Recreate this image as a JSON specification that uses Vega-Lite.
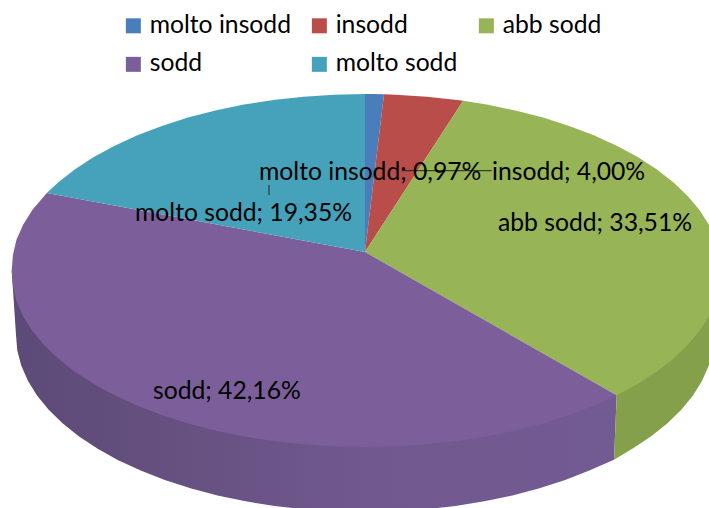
{
"$schema":"https://vega.github.io/schema/vega-lite/v6.json",
"width":709,"height":508,"padding":0,"autosize":{"type":"none"},
"background":"white",
"config":{"view":{"stroke":null}},
"datasets":{
"top":[
{"slice":"molto insodd","i":0,"x":365,"y":252},{"slice":"molto insodd","i":1,"x":365,"y":94},{"slice":"molto insodd","i":2,"x":374,"y":94.1},{"slice":"molto insodd","i":3,"x":384,"y":94.3},
{"slice":"insodd","i":0,"x":365,"y":252},{"slice":"insodd","i":1,"x":384,"y":94.3},{"slice":"insodd","i":2,"x":396,"y":94.7},{"slice":"insodd","i":3,"x":426.8,"y":96.7},{"slice":"insodd","i":4,"x":457.1,"y":100},{"slice":"insodd","i":5,"x":463.1,"y":100.8},
{"slice":"abb sodd","i":0,"x":365,"y":252},{"slice":"abb sodd","i":1,"x":463.1,"y":100.8},{"slice":"abb sodd","i":2,"x":486.8,"y":104.6},{"slice":"abb sodd","i":3,"x":515.4,"y":110.5},{"slice":"abb sodd","i":4,"x":543,"y":117.6},{"slice":"abb sodd","i":5,"x":569.2,"y":125.9},{"slice":"abb sodd","i":6,"x":593.8,"y":135.3},{"slice":"abb sodd","i":7,"x":616.7,"y":145.7},{"slice":"abb sodd","i":8,"x":637.7,"y":157},{"slice":"abb sodd","i":9,"x":656.6,"y":169.3},{"slice":"abb sodd","i":10,"x":673.3,"y":182.2},{"slice":"abb sodd","i":11,"x":687.6,"y":195.9},{"slice":"abb sodd","i":12,"x":699.5,"y":210.1},{"slice":"abb sodd","i":13,"x":708.9,"y":224.8},{"slice":"abb sodd","i":14,"x":715.6,"y":239.9},{"slice":"abb sodd","i":15,"x":719.6,"y":255.1},{"slice":"abb sodd","i":16,"x":721,"y":270.5},{"slice":"abb sodd","i":17,"x":719.6,"y":285.9},{"slice":"abb sodd","i":18,"x":715.6,"y":301.1},{"slice":"abb sodd","i":19,"x":708.9,"y":316.2},{"slice":"abb sodd","i":20,"x":699.5,"y":330.9},{"slice":"abb sodd","i":21,"x":687.6,"y":345.1},{"slice":"abb sodd","i":22,"x":673.3,"y":358.8},{"slice":"abb sodd","i":23,"x":656.6,"y":371.7},{"slice":"abb sodd","i":24,"x":637.7,"y":384},{"slice":"abb sodd","i":25,"x":616.7,"y":395.3},
{"slice":"sodd","i":0,"x":365,"y":252},{"slice":"sodd","i":1,"x":616.7,"y":395.3},{"slice":"sodd","i":2,"x":593.8,"y":405.7},{"slice":"sodd","i":3,"x":569.2,"y":415.1},{"slice":"sodd","i":4,"x":543,"y":423.4},{"slice":"sodd","i":5,"x":515.4,"y":430.5},{"slice":"sodd","i":6,"x":486.8,"y":436.4},{"slice":"sodd","i":7,"x":457.1,"y":441},{"slice":"sodd","i":8,"x":426.8,"y":444.3},{"slice":"sodd","i":9,"x":396,"y":446.3},{"slice":"sodd","i":10,"x":365,"y":447},{"slice":"sodd","i":11,"x":334.1,"y":446.3},{"slice":"sodd","i":12,"x":303.5,"y":444.3},{"slice":"sodd","i":13,"x":273.4,"y":441},{"slice":"sodd","i":14,"x":243.9,"y":436.4},{"slice":"sodd","i":15,"x":215.4,"y":430.5},{"slice":"sodd","i":16,"x":188,"y":423.4},{"slice":"sodd","i":17,"x":161.9,"y":415.1},{"slice":"sodd","i":18,"x":137.4,"y":405.7},{"slice":"sodd","i":19,"x":114.7,"y":395.3},{"slice":"sodd","i":20,"x":93.8,"y":384},{"slice":"sodd","i":21,"x":75,"y":371.7},{"slice":"sodd","i":22,"x":58.4,"y":358.8},{"slice":"sodd","i":23,"x":44.2,"y":345.1},{"slice":"sodd","i":24,"x":32.3,"y":330.9},{"slice":"sodd","i":25,"x":23.1,"y":316.2},{"slice":"sodd","i":26,"x":16.4,"y":301.1},{"slice":"sodd","i":27,"x":12.9,"y":285.9},{"slice":"sodd","i":28,"x":11.7,"y":270.5},{"slice":"sodd","i":29,"x":12.9,"y":255.1},{"slice":"sodd","i":30,"x":16.4,"y":239.9},{"slice":"sodd","i":31,"x":23.1,"y":224.8},{"slice":"sodd","i":32,"x":32.3,"y":210.1},{"slice":"sodd","i":33,"x":46.8,"y":193.1},
{"slice":"molto sodd","i":0,"x":365,"y":252},{"slice":"molto sodd","i":1,"x":46.8,"y":193.1},{"slice":"molto sodd","i":2,"x":58.4,"y":182.2},{"slice":"molto sodd","i":3,"x":75,"y":169.3},{"slice":"molto sodd","i":4,"x":93.8,"y":157},{"slice":"molto sodd","i":5,"x":114.7,"y":145.7},{"slice":"molto sodd","i":6,"x":137.4,"y":135.3},{"slice":"molto sodd","i":7,"x":161.9,"y":125.9},{"slice":"molto sodd","i":8,"x":188,"y":117.6},{"slice":"molto sodd","i":9,"x":215.4,"y":110.5},{"slice":"molto sodd","i":10,"x":243.9,"y":104.6},{"slice":"molto sodd","i":11,"x":273.4,"y":100},{"slice":"molto sodd","i":12,"x":303.5,"y":96.7},{"slice":"molto sodd","i":13,"x":334.1,"y":94.7},{"slice":"molto sodd","i":14,"x":365,"y":94}
],
"wallPurple":[
{"i":0,"x":616.7,"y":395.3},{"i":1,"x":365,"y":300},{"i":2,"x":11.7,"y":270.5},{"i":3,"x":16,"y":335},{"i":4,"x":17.3,"y":350.4},{"i":5,"x":21.3,"y":365.7},{"i":6,"x":27.9,"y":380.8},{"i":7,"x":37,"y":395.5},{"i":8,"x":48.7,"y":409.8},{"i":9,"x":62.8,"y":423.5},{"i":10,"x":79.1,"y":436.5},{"i":11,"x":97.7,"y":448.8},{"i":12,"x":118.2,"y":460.2},{"i":13,"x":140.7,"y":470.6},{"i":14,"x":164.8,"y":480},{"i":15,"x":190.5,"y":488.3},{"i":16,"x":217.5,"y":495.4},{"i":17,"x":245.6,"y":501.3},{"i":18,"x":274.7,"y":506},{"i":19,"x":304.4,"y":509.3},{"i":20,"x":334.6,"y":511.3},{"i":21,"x":365,"y":512},{"i":22,"x":395.4,"y":511.3},{"i":23,"x":425.6,"y":509.3},{"i":24,"x":455.3,"y":506},{"i":25,"x":484.4,"y":501.3},{"i":26,"x":512.5,"y":495.4},{"i":27,"x":539.5,"y":488.3},{"i":28,"x":565.2,"y":480},{"i":29,"x":589.3,"y":470.6},{"i":30,"x":614,"y":459.8}
],
"wallGreen":[
{"i":0,"x":616.7,"y":395.3},{"i":1,"x":721,"y":270.5},{"i":2,"x":714,"y":335},{"i":3,"x":712.7,"y":350.4},{"i":4,"x":708.7,"y":365.7},{"i":5,"x":702.1,"y":380.8},{"i":6,"x":693,"y":395.5},{"i":7,"x":681.3,"y":409.8},{"i":8,"x":667.2,"y":423.5},{"i":9,"x":650.9,"y":436.5},{"i":10,"x":632.3,"y":448.8},{"i":11,"x":614,"y":459.8}
],
"labels":[
{"label":"molto insodd; 0,97%","x":259,"y":180},
{"label":"insodd; 4,00%","x":492,"y":180},
{"label":"abb sodd; 33,51%","x":498,"y":231},
{"label":"molto sodd; 19,35%","x":135,"y":221},
{"label":"sodd; 42,16%","x":153,"y":399}
],
"leaders":[
{"x":401.7,"x2":491.7,"y":170.7,"y2":170.7},
{"x":269,"x2":269,"y":185,"y2":195}
]
},
"layer":[
{"data":{"name":"wallPurple"},
 "mark":{"type":"line","filled":true,"clip":true,"strokeWidth":0,"fill":{"gradient":"linear","x1":0,"x2":1,"y1":0,"y2":0,"stops":[{"offset":0,"color":"#5c4a78"},{"offset":0.25,"color":"#65507f"},{"offset":0.6,"color":"#715990"},{"offset":1,"color":"#725a92"}]}},
 "encoding":{"x":{"field":"x","type":"quantitative","scale":{"domain":[0,709]},"axis":null},"y":{"field":"y","type":"quantitative","scale":{"domain":[508,0]},"axis":null},"order":{"field":"i"}}},
{"data":{"name":"wallGreen"},
 "mark":{"type":"line","filled":true,"clip":true,"strokeWidth":0,"fill":"#84a04b"},
 "encoding":{"x":{"field":"x","type":"quantitative","scale":{"domain":[0,709]},"axis":null},"y":{"field":"y","type":"quantitative","scale":{"domain":[508,0]},"axis":null},"order":{"field":"i"}}},
{"data":{"name":"top"},
 "mark":{"type":"line","filled":true,"clip":true,"strokeWidth":0},
 "encoding":{
  "x":{"field":"x","type":"quantitative","scale":{"domain":[0,709]},"axis":null},
  "y":{"field":"y","type":"quantitative","scale":{"domain":[508,0]},"axis":null},
  "order":{"field":"i"},
  "fill":{"field":"slice","type":"nominal","sort":null,
   "scale":{"domain":["molto insodd","insodd","abb sodd","sodd","molto sodd"],"range":["#4a7ebb","#b84d4a","#97b456","#7c5f9a","#46a2bb"]},
   "legend":{"title":null,"orient":"none","legendX":121,"legendY":13,"columns":3,"direction":"horizontal","gridAlign":"each","columnPadding":16,"rowPadding":13,"symbolType":"square","symbolSize":225,"symbolStrokeWidth":0,"labelFont":"Lato","labelFontSize":24.7,"labelColor":"#000000","labelOffset":4,"symbolOpacity":1}}}},
{"data":{"name":"leaders"},
 "mark":{"type":"rule","color":"#222222","strokeWidth":1},
 "encoding":{"x":{"field":"x","type":"quantitative","scale":{"domain":[0,709]},"axis":null},"x2":{"field":"x2"},"y":{"field":"y","type":"quantitative","scale":{"domain":[508,0]},"axis":null},"y2":{"field":"y2"}}},
{"data":{"name":"labels"},
 "mark":{"type":"text","font":"Lato","fontSize":24.7,"align":"left","baseline":"alphabetic","color":"#000000"},
 "encoding":{"x":{"field":"x","type":"quantitative","scale":{"domain":[0,709]},"axis":null},"y":{"field":"y","type":"quantitative","scale":{"domain":[508,0]},"axis":null},"text":{"field":"label"}}}
]
}
